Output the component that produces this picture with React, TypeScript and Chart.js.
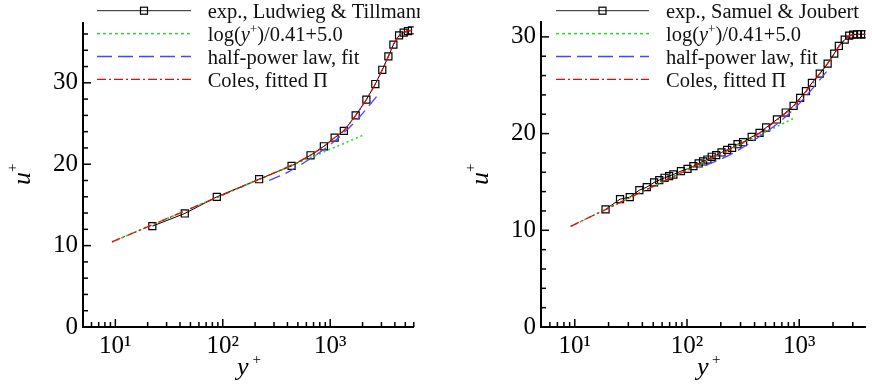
import React, { useEffect, useRef } from 'react';
import { Chart, registerables } from 'chart.js';
Chart.register(...registerables);

const FONT = '"Liberation Serif", "Times New Roman", serif';
const GREEN = 'rgb(40,215,40)';
const BLUE = 'rgb(70,70,255)';
const RED = 'rgb(230,10,10)';

// ---- shared axis ticks ----
const Y_TICKS = [0, 10, 20, 30];
const X_TICKS = [10, 100, 1000];
const X_TICK_LABELS = ['10\u00B9', '10\u00B2', '10\u00B3'];

// ---- left panel: Ludwieg & Tillmann ----
const ltExpY = [22.1, 44.3, 88, 218, 437, 656, 873, 1100, 1340, 1726, 2172, 2630, 3053, 3480, 3875, 4375, 4830, 5295, 5770];
const ltExpU = [12.39, 13.95, 15.99, 18.16, 19.79, 21.1, 22.2, 23.27, 24.09, 26.0, 27.94, 29.85, 31.6, 33.25, 34.69, 35.83, 36.16, 36.36, 36.44];
const ltLogY = [9.3, 2060];
const ltLogU = [10.45, 23.6];
const ltHalfY = [270, 400, 656, 1000, 1400, 1900, 2700];
const ltHalfU = [18.0, 19.0, 20.7, 22.4, 24.1, 25.9, 28.3];
const ltColesY = [9.3, 22, 50, 100, 218, 437, 656, 873, 1100, 1340, 1726, 2172, 2630, 3053, 3480, 3875, 4375, 4830, 5295, 5770];
const ltColesU = [10.45, 12.55, 14.55, 16.23, 18.15, 19.9, 21.1, 22.2, 23.27, 24.15, 26.0, 27.95, 29.85, 31.6, 33.25, 34.7, 35.8, 36.2, 36.38, 36.45];

// ---- right panel: Samuel & Joubert ----
const sjExpY = [18.8, 25.3, 30.9, 37.6, 43.8, 50.9, 56.6, 63.1, 69.3, 75.6, 88.3, 101, 114, 127, 139, 152, 166, 182, 203, 228, 252, 282, 316, 377, 443, 507, 633, 758, 891, 1019, 1148, 1297, 1524, 1791, 2050, 2254, 2543, 2790, 3027, 3282, 3556, 3855];
const sjExpU = [12.16, 13.22, 13.43, 14.15, 14.46, 14.95, 15.19, 15.43, 15.6, 15.77, 16.12, 16.35, 16.63, 16.91, 17.12, 17.32, 17.6, 17.77, 18.05, 18.32, 18.52, 18.9, 19.11, 19.66, 20.07, 20.63, 21.46, 22.18, 22.86, 23.69, 24.38, 25.24, 26.2, 27.24, 28.27, 29.06, 29.72, 30.13, 30.24, 30.27, 30.27, 30.27];
const sjLogY = [9.2, 929];
const sjLogU = [10.41, 21.67];
const sjHalfY = [146, 250, 443, 700, 1000, 1300, 1750];
const sjHalfU = [16.7, 17.9, 19.7, 21.4, 23.1, 24.6, 26.4];
const sjColesY = [9.2, 20, 50, 100, 200, 316, 443, 633, 891, 1148, 1524, 1791, 2050, 2254, 2543, 2790, 3027, 3556, 3920];
const sjColesU = [10.41, 12.3, 14.55, 16.23, 17.92, 19.05, 20.05, 21.4, 22.85, 24.35, 26.2, 27.25, 28.25, 29.0, 29.7, 30.1, 30.22, 30.27, 30.27];

type Part = { t: string; k?: 'i' | 'sup' };

function pts(xs: number[], ys: number[]) {
  return xs.map((x, i) => ({ x, y: ys[i] }));
}

function drawParts(ctx: CanvasRenderingContext2D, x: number, y: number, parts: Part[], size: number) {
  let cx = x;
  for (const p of parts) {
    if (p.k === 'sup') {
      ctx.font = `${Math.round(size * 0.62)}px ${FONT}`;
      ctx.fillText(p.t, cx, y - size * 0.42);
    } else if (p.k === 'i') {
      ctx.font = `italic ${size}px ${FONT}`;
      ctx.fillText(p.t, cx, y);
    } else {
      ctx.font = `${size}px ${FONT}`;
      ctx.fillText(p.t, cx, y);
    }
    cx += ctx.measureText(p.t).width;
  }
}

interface PanelCfg {
  expName: string;
  expX: number[]; expU: number[];
  logX: number[]; logU: number[];
  halfX: number[]; halfU: number[];
  colesX: number[]; colesU: number[];
  xMax: number; yMax: number;
  top: number; padRight: number; yWidth: number;
  legLine0: number; legLine1: number; legText: number;
  uTitleX: number; yTitleX: number; yPlusX: number;
}

function overlay(p: PanelCfg) {
  return {
    id: 'overlay',
    afterDraw(chart: any) {
      const ctx: CanvasRenderingContext2D = chart.ctx;
      const xs = chart.scales.x, ys = chart.scales.y;
      const a = chart.chartArea;
      ctx.save();
      ctx.strokeStyle = '#000';
      ctx.lineWidth = 1.5;
      ctx.setLineDash([]);
      // y ticks (inward)
      for (let v = 0; v <= ys.max + 1e-6; v += 2) {
        const py = ys.getPixelForValue(v);
        const len = v % 10 === 0 ? 8 : 5;
        ctx.beginPath(); ctx.moveTo(a.left, py); ctx.lineTo(a.left + len, py); ctx.stroke();
      }
      // x ticks (inward)
      for (let d = 0; d <= 4; d++) {
        for (let m = 1; m <= 9; m++) {
          const v = m * Math.pow(10, d);
          if (v <= xs.min || v > xs.max) continue;
          const px = xs.getPixelForValue(v);
          const len = m === 1 ? 8 : 5;
          ctx.beginPath(); ctx.moveTo(px, a.bottom); ctx.lineTo(px, a.bottom - len); ctx.stroke();
        }
      }
      ctx.fillStyle = '#000';
      ctx.textAlign = 'left';
      ctx.textBaseline = 'alphabetic';
      // x title y+
      ctx.font = `italic 26px ${FONT}`;
      ctx.fillText('y', p.yTitleX, 375);
      ctx.font = `15px ${FONT}`;
      ctx.fillText('+', p.yPlusX, 364);
      // y title u+ (rotated)
      ctx.save();
      ctx.translate(p.uTitleX, 185);
      ctx.rotate(-Math.PI / 2);
      ctx.font = `italic 26px ${FONT}`;
      ctx.fillText('u', 0, 0);
      ctx.font = `15px ${FONT}`;
      ctx.fillText('+', 13, -13.5);
      ctx.restore();
      // legend
      const entries: { parts: Part[]; color: string; dash: number[]; width: number; marker?: boolean }[] = [
        { parts: [{ t: p.expName }], color: '#222', dash: [], width: 1, marker: true },
        { parts: [{ t: 'log(' }, { t: 'y', k: 'i' }, { t: '+', k: 'sup' }, { t: ')/0.41+5.0' }], color: GREEN, dash: [3, 3], width: 1.5 },
        { parts: [{ t: 'half-power law, fit' }], color: BLUE, dash: [15, 6], width: 1.5 },
        { parts: [{ t: 'Coles, fitted \u03A0' }], color: RED, dash: [9, 3, 2, 3], width: 1.3 },
      ];
      entries.forEach((e, i) => {
        const ly = 10.7 + i * 22.9;
        ctx.strokeStyle = e.color;
        ctx.lineWidth = e.width;
        ctx.setLineDash(e.dash);
        ctx.beginPath(); ctx.moveTo(p.legLine0, ly); ctx.lineTo(p.legLine1, ly); ctx.stroke();
        ctx.setLineDash([]);
        if (e.marker) {
          const mx = (p.legLine0 + p.legLine1) / 2;
          ctx.strokeStyle = '#000';
          ctx.lineWidth = 1.2;
          ctx.strokeRect(mx - 3.5, ly - 3.5, 7, 7);
        }
        ctx.fillStyle = '#111';
        drawParts(ctx, p.legText, ly + 7.6, e.parts, 20.5);
      });
      ctx.restore();
    },
  };
}

function buildConfig(p: PanelCfg): any {
  return {
    type: 'line',
    data: {
      datasets: [
        { label: 'Coles, fitted \u03A0', data: pts(p.colesX, p.colesU), borderColor: RED, borderWidth: 1.3, borderDash: [9, 3, 2, 3], pointRadius: 0, cubicInterpolationMode: 'monotone', fill: false, order: 1 },
        { label: 'half-power law, fit', data: pts(p.halfX, p.halfU), borderColor: BLUE, borderWidth: 1.3, borderDash: [12, 6], pointRadius: 0, cubicInterpolationMode: 'monotone', fill: false, order: 2 },
        { label: 'log(y+)/0.41+5.0', data: pts(p.logX, p.logU), borderColor: GREEN, borderWidth: 1.6, borderDash: [2, 3], pointRadius: 0, fill: false, order: 3 },
        { label: p.expName, data: pts(p.expX, p.expU), borderColor: '#000', borderWidth: 1, pointStyle: 'rect', pointRadius: 5, pointBorderWidth: 1.2, pointBorderColor: '#000', pointBackgroundColor: 'rgba(255,255,255,0)', fill: false, order: 4 },
      ],
    },
    options: {
      responsive: false,
      animation: false,
      events: [],
      layout: { padding: { left: 0, top: p.top, right: p.padRight, bottom: 0 } },
      plugins: { legend: { display: false }, tooltip: { enabled: false } },
      scales: {
        x: {
          type: 'logarithmic', min: 5, max: p.xMax, bounds: 'data',
          grid: { display: false, drawTicks: false },
          border: { display: true, color: '#000', width: 2 },
          ticks: {
            font: { family: FONT, size: 25 }, color: '#000', padding: 4, maxRotation: 0, autoSkip: false,
            callback: (v: any) => { const i = X_TICKS.indexOf(Number(v)); return i >= 0 ? X_TICK_LABELS[i] : ''; },
          },
          afterBuildTicks: (s: any) => { s.ticks = X_TICKS.map((v) => ({ value: v })); },
          afterFit: (s: any) => { s.height = 58; },
        },
        y: {
          type: 'linear', min: 0, max: p.yMax, bounds: 'data',
          grid: { display: false, drawTicks: false },
          border: { display: true, color: '#000', width: 2 },
          ticks: { font: { family: FONT, size: 25 }, color: '#000', padding: 5, autoSkip: false },
          afterBuildTicks: (s: any) => { s.ticks = Y_TICKS.map((v) => ({ value: v })); },
          afterFit: (s: any) => { s.width = p.yWidth; },
        },
      },
    },
    plugins: [overlay(p)],
  };
}

const leftCfg: PanelCfg = {
  expName: 'exp., Ludwieg & Tillmann',
  expX: ltExpY, expU: ltExpU, logX: ltLogY, logU: ltLogU, halfX: ltHalfY, halfU: ltHalfU, colesX: ltColesY, colesU: ltColesU,
  xMax: 6000, yMax: 37.35, top: 23, padRight: 4, yWidth: 83,
  legLine0: 97, legLine1: 191, legText: 207.7,
  uTitleX: 30, yTitleX: 237, yPlusX: 252.5,
};

const rightCfg: PanelCfg = {
  expName: 'exp., Samuel & Joubert',
  expX: sjExpY, expU: sjExpU, logX: sjLogY, logU: sjLogU, halfX: sjHalfY, halfU: sjHalfU, colesX: sjColesY, colesU: sjColesU,
  xMax: 3919, yMax: 31.54, top: 22, padRight: 0, yWidth: 121,
  legLine0: 556 - 420, legLine1: 649 - 420, legText: 666 - 420,
  uTitleX: 488 - 420, yTitleX: 697 - 420, yPlusX: 712 - 420,
};

function Panel({ left, width, cfg }: { left: number; width: number; cfg: PanelCfg }) {
  const ref = useRef<HTMLCanvasElement>(null);
  useEffect(() => {
    const chart = new Chart(ref.current as HTMLCanvasElement, buildConfig(cfg));
    return () => chart.destroy();
  }, []);
  return (
    <canvas ref={ref} width={width} height={385}
      style={{ position: 'absolute', left, top: 0, width, height: 385, display: 'block' }} />
  );
}

export default function App() {
  return (
    <div style={{ position: 'fixed', left: 0, top: 0, width: 872, height: 385, background: '#fff', overflow: 'hidden' }}>
      <Panel left={0} width={420} cfg={leftCfg} />
      <Panel left={420} width={452} cfg={rightCfg} />
    </div>
  );
}
